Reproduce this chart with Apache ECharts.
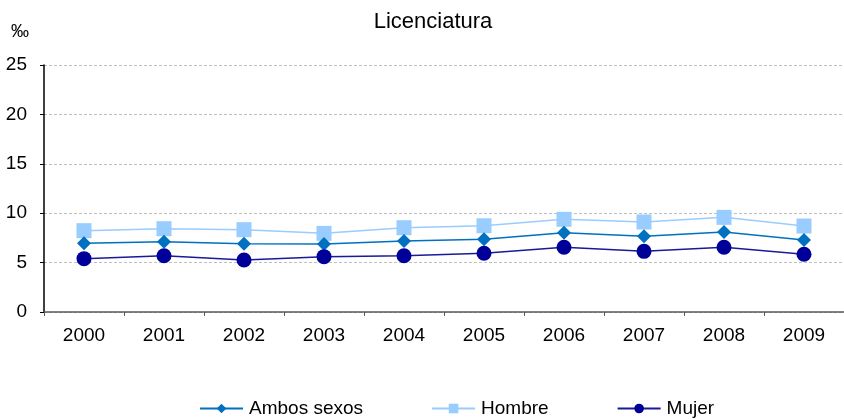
<!DOCTYPE html>
<html>
<head>
<meta charset="utf-8">
<script src="https://cdn.jsdelivr.net/npm/echarts@6/dist/echarts.min.js"></script>
<style>
  html, body { margin: 0; padding: 0; background: #fff; }
  #main { width: 844px; height: 419px; }
</style>
</head>
<body>
<div id="main"></div>
<script>
// datos (tasa por mil)
const years = ['2000', '2001', '2002', '2003', '2004', '2005', '2006', '2007', '2008', '2009']
const ambos = [6.95, 7.12, 6.91, 6.88, 7.19, 7.36, 8.03, 7.66, 8.1, 7.29]
const hombre = [8.23, 8.43, 8.33, 7.96, 8.53, 8.73, 9.38, 9.11, 9.58, 8.7]
const mujer = [5.4, 5.7, 5.26, 5.6, 5.7, 5.94, 6.55, 6.14, 6.55, 5.84]
const yTicks = [0, 5, 10, 15, 20, 25]

const chart = echarts.init(document.getElementById('main'))
const font = 'Liberation Sans, Arial, sans-serif'

const option = {
  animation: false,
  title: {
    text: 'Licenciatura',
    left: 428,
    textAlign: 'center',
    top: 6,
    textStyle: { fontFamily: font, fontSize: 22, fontWeight: 'normal', color: '#000' }
  },
  grid: { left: 44, width: 804, top: 65, height: 247 },
  legend: {
    top: 394,
    left: 194,
    itemWidth: 43,
    itemHeight: 12,
    itemGap: 68,
    textStyle: { fontFamily: font, fontSize: 19, color: '#000', padding: [0, 0, 0, 1] },
    data: ['Ambos sexos', 'Hombre', 'Mujer']
  },
  xAxis: {
    type: 'category',
    data: years,
    boundaryGap: true,
    axisLine: { lineStyle: { color: '#595959', width: 1.5 } },
    axisTick: { show: true, length: 4, lineStyle: { color: '#595959' } },
    axisLabel: { fontFamily: font, fontSize: 19, color: '#000', margin: 14 }
  },
  yAxis: {
    type: 'value',
    min: 0,
    max: 25,
    interval: 5,
    name: '‰',
    nameLocation: 'end',
    nameGap: 24,
    nameTextStyle: { fontFamily: font, fontSize: 18, color: '#000', align: 'center', padding: [0, 48, 0, 0] },
    axisLine: { show: true, lineStyle: { color: '#000', width: 1.5 } },
    axisTick: { show: true, length: 4, lineStyle: { color: '#000' } },
    axisLabel: {
      fontFamily: font, fontSize: 19, color: '#000', margin: 17,
      formatter: v => (yTicks.includes(v) ? String(v) : '')
    },
    splitLine: { show: true, lineStyle: { color: '#bfbfbf', type: [3, 2] } }
  },
  series: [
    {
      name: 'Ambos sexos',
      type: 'line',
      data: ambos,
      symbol: 'diamond',
      symbolSize: 14,
      z: 3,
      lineStyle: { color: '#0070c0', width: 1.5 },
      itemStyle: { color: '#0070c0' }
    },
    {
      name: 'Hombre',
      type: 'line',
      data: hombre,
      symbol: 'rect',
      symbolSize: 15,
      z: 2,
      lineStyle: { color: '#99ccff', width: 1.5 },
      itemStyle: { color: '#99ccff' }
    },
    {
      name: 'Mujer',
      type: 'line',
      data: mujer,
      symbol: 'circle',
      symbolSize: 15,
      z: 4,
      lineStyle: { color: '#1a1a99', width: 1.5 },
      itemStyle: { color: '#000099' }
    }
  ]
}

option && chart.setOption(option)
</script>
</body>
</html>
